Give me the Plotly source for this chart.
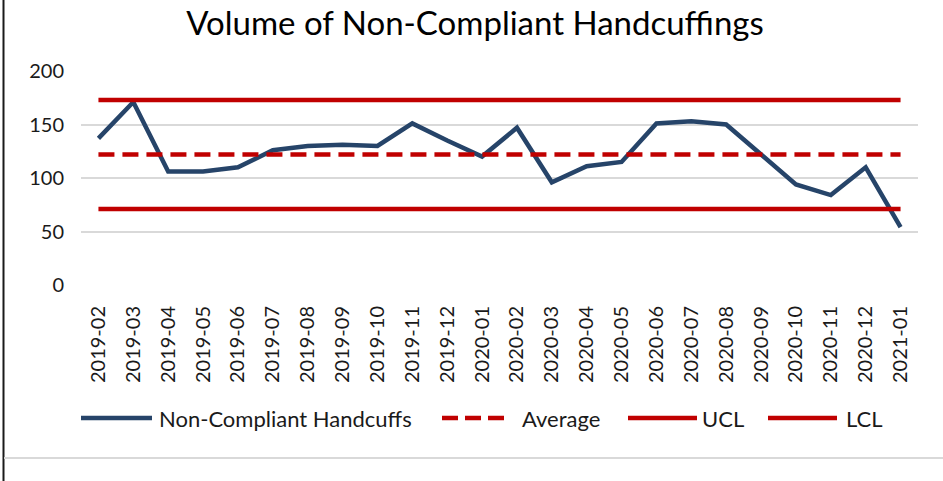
import plotly.graph_objects as go

months = ["2019-02", "2019-03", "2019-04", "2019-05", "2019-06", "2019-07", "2019-08",
          "2019-09", "2019-10", "2019-11", "2019-12", "2020-01", "2020-02", "2020-03",
          "2020-04", "2020-05", "2020-06", "2020-07", "2020-08", "2020-09", "2020-10",
          "2020-11", "2020-12", "2021-01"]
handcuffs = [137, 171, 106, 106, 110, 126, 130, 131, 130, 151, 135, 120, 147, 96,
             111, 115, 151, 153, 150, 122, 94, 84, 110, 54]
average_value = 122
ucl_value = 173
lcl_value = 71
y_ticks = [0, 50, 100, 150, 200]

average = [average_value] * len(months)
ucl = [ucl_value] * len(months)
lcl = [lcl_value] * len(months)

NAVY = "#264469"
RED = "#c00000"
FONT = "Lato, 'Noto Sans', sans-serif"

W, H = 943, 481
L, R, T, B = 81, 918, 71, 285  # plot area pixels


def px(x):
    return (x - L) / (R - L)


def py(y):
    return (B - y) / (B - T)


fig = go.Figure()
fig.add_trace(go.Scatter(x=months, y=handcuffs, mode="lines", name="Non-Compliant Handcuffs",
                         line=dict(color=NAVY, width=4.5), showlegend=False))
fig.add_trace(go.Scatter(x=months, y=average, mode="lines", name="Average",
                         line=dict(color=RED, width=4.5, dash="16px,8px"), showlegend=False))
fig.add_trace(go.Scatter(x=months, y=ucl, mode="lines", name="UCL",
                         line=dict(color=RED, width=4.5), showlegend=False))
fig.add_trace(go.Scatter(x=months, y=lcl, mode="lines", name="LCL",
                         line=dict(color=RED, width=4.5), showlegend=False))

# manual legend (swatches + labels)
legend_items = [
    ("Non-Compliant Handcuffs", NAVY, "solid", 81, 152, 157),
    ("Average", RED, "16px,7px", 442, 507, 520),
    ("UCL", RED, "solid", 628, 697, 700),
    ("LCL", RED, "solid", 768, 837, 844),
]
shapes = []
annotations = []
LEG_Y = 418
for name, color, dash, x0, x1, xt in legend_items:
    shapes.append(dict(type="line", xref="paper", yref="paper",
                       x0=px(x0), x1=px(x1), y0=py(LEG_Y), y1=py(LEG_Y),
                       line=dict(color=color, width=4.5, dash=dash)))
    annotations.append(dict(text=name, xref="paper", yref="paper", x=px(xt), y=py(LEG_Y),
                            xanchor="left", yanchor="middle", showarrow=False,
                            font=dict(family=FONT, size=22, color="#1a1a1a")))

# chart border fragments
shapes.append(dict(type="line", xref="paper", yref="paper", x0=px(3.5), x1=px(3.5),
                   y0=py(0), y1=py(481), line=dict(color="#1a1a1a", width=2)))
shapes.append(dict(type="line", xref="paper", yref="paper", x0=px(4), x1=px(943),
                   y0=py(458), y1=py(458), line=dict(color="#d9d9d9", width=2)))

fig.update_layout(
    width=W, height=H,
    margin=dict(l=L, r=W - R, t=T, b=H - B),
    paper_bgcolor="white", plot_bgcolor="white",
    title=dict(text="Volume of Non-Compliant Handcuffings", x=475 / W, xanchor="center",
               y=1 - 23 / H, yanchor="middle", xref="container", yref="container",
               font=dict(family=FONT, size=33, color="#000000")),
    shapes=shapes, annotations=annotations,
    showlegend=False,
)
fig.update_xaxes(type="category", range=[-0.5, len(months) - 0.5], tickangle=-90,
                 showgrid=False, showline=False, zeroline=False,
                 ticks="outside", ticklen=12, tickcolor="rgba(0,0,0,0)",
                 tickfont=dict(family=FONT, size=20, color="#1a1a1a"))
fig.update_yaxes(range=[0, 200], tickvals=y_ticks, showgrid=True, gridcolor="#d9d9d9",
                 gridwidth=1.5, zeroline=False, showline=False,
                 ticks="outside", ticklen=12, tickcolor="rgba(0,0,0,0)",
                 tickfont=dict(family=FONT, size=20, color="#1a1a1a"))

fig.write_html("out.html", config={"displayModeBar": False},
               post_script="document.body.style.margin='0';document.body.style.overflow='hidden';")
